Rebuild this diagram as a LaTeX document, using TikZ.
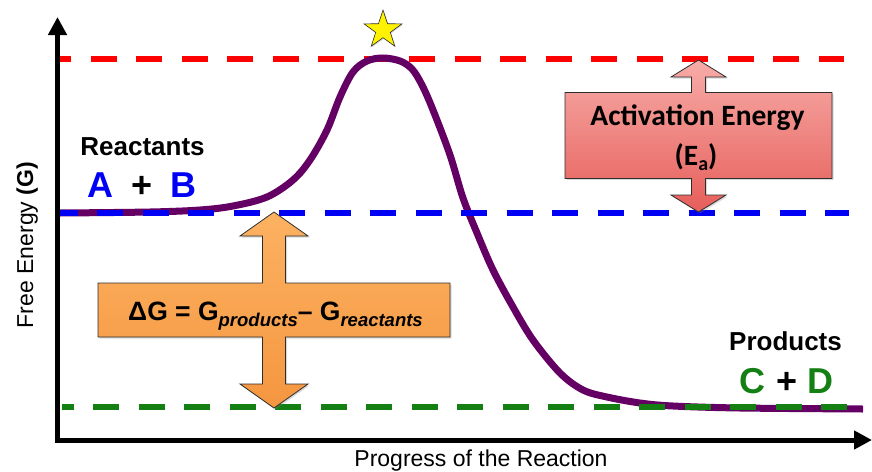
\documentclass[tikz,border=0pt]{standalone}
\usepackage{fontspec}
\setmainfont{Liberation Sans}
\newfontfamily\calibrifont{Carlito}
\usetikzlibrary{arrows.meta,shapes.geometric,shadows}

\definecolor{curvepurple}{RGB}{100,0,100}
\definecolor{levelred}{RGB}{255,0,0}
\definecolor{levelblue}{RGB}{0,0,245}
\definecolor{levelgreen}{RGB}{20,128,20}
\definecolor{eatop}{RGB}{247,172,168}
\definecolor{eabottom}{RGB}{230,94,90}
\definecolor{dgtop}{RGB}{252,178,98}
\definecolor{dgbottom}{RGB}{245,150,64}
\definecolor{boxline}{RGB}{45,45,45}

\begin{document}
\begin{tikzpicture}[
  x=1pt, y=-1pt,
  axis/.style={line width=5pt, arrows={Triangle[length=18pt,width=18pt]-Triangle[length=18pt,width=18pt]}},
  level/.style={line width=6pt, dash pattern=on 26pt off 19.5pt},
  energy/.style={line width=7pt, curvepurple},
  bigarrow/.style={draw=boxline, line width=0.8pt, line join=miter,
    drop shadow={opacity=0.3, shadow xshift=1.5pt, shadow yshift=-1.5pt}},
  state/.style={font=\bfseries\fontsize{26}{30}\selectfont, anchor=base},
  species/.style={font=\bfseries\fontsize{36}{40}\selectfont, anchor=base},
  ealabel/.style={font=\calibrifont\bfseries\fontsize{29.5}{32}\selectfont, anchor=base},
  axislabel/.style={font=\fontsize{23}{26}\selectfont, anchor=base}
]
\useasboundingbox (0,0) rectangle (872,471);

\coordinate (origin) at (57.5,440);
\coordinate (ytip) at (57.5,17);
\coordinate (xtip) at (872,440);

% energy levels and reaction path
\draw[level, levelred, dash phase=14pt] (59,59) -- (844,59);
\draw[energy] plot[smooth, tension=0.55] coordinates {
  (60,213) (150,212) (200,210) (233,206) (267,197) (293,180) (310,160)
  (327,130) (340,97) (353,72) (367,61) (383,58) (400,61) (412,69)
  (422,85) (433,110) (450,155) (463,198) (477,233) (493,270) (513,307)
  (533,340) (560,373) (583,390) (607,397) (640,403) (673,406) (740,408)
  (863,409)};
\draw[level, levelblue, dash phase=8.5pt] (60,213) -- (849,213);
\draw[level, levelgreen, dash phase=14.5pt] (62,407) -- (847,407);
\draw[axis] (ytip) -- (origin) -- (xtip);

\node[star, star points=5, star point ratio=2.6, minimum size=40pt, inner sep=0pt,
  fill=yellow, draw=boxline, line width=0.6pt,
  drop shadow={opacity=0.3, shadow xshift=1pt, shadow yshift=-1pt}] (ts) at (383,30) {};

% activation energy
\path[bigarrow, top color=eatop, bottom color=eabottom]
  (698.5,60) -- (726,77) -- (705.5,77) -- (705.5,92.5) -- (832,92.5)
  -- (832,178.5) -- (705.5,178.5) -- (705.5,195) -- (726,195) -- (698.5,212)
  -- (671,195) -- (691.5,195) -- (691.5,178.5) -- (565,178.5) -- (565,92.5)
  -- (691.5,92.5) -- (691.5,77) -- (671,77) -- cycle;
\node[ealabel] (eatext) at (697.5,125) {Activation Energy};
\node[ealabel] (easymbol) at (696,165) {(E{\fontsize{20}{22}\selectfont\raisebox{-5pt}{a}})};

% free energy change
\path[bigarrow, top color=dgtop, bottom color=dgbottom]
  (274,212) -- (308,236) -- (285.5,236) -- (285.5,283) -- (450,283)
  -- (450,337) -- (285.5,337) -- (285.5,384) -- (308,384) -- (274,408)
  -- (240,384) -- (262.5,384) -- (262.5,337) -- (98,337) -- (98,283)
  -- (262.5,283) -- (262.5,236) -- (240,236) -- cycle;
\node[state, font=\bfseries\fontsize{26.5}{30}\selectfont] (dgtext) at (275.5,320)
  {ΔG = G{\fontsize{18.5}{20}\selectfont\itshape\raisebox{-6pt}{products}}– G{\fontsize{18.5}{20}\selectfont\itshape\raisebox{-6pt}{reactants}}};

% reactants and products
\node[state] (reactants) at (142.5,155) {Reactants};
\node[species] (ab) at (142,197) {\textcolor{levelblue}{A}\hspace{18pt}+\hspace{18pt}\textcolor{levelblue}{B}};
\node[state] (products) at (785.5,350) {Products};
\node[species] (cd) at (786.5,393) {\textcolor{levelgreen}{C} + \textcolor{levelgreen}{D}};

% axis labels
\node[axislabel, rotate=90] (ylabel) at (33,245) {Free Energy \textbf{(G)}};
\node[axislabel] (xlabel) at (481,466) {Progress of the Reaction};
\end{tikzpicture}
\end{document}
